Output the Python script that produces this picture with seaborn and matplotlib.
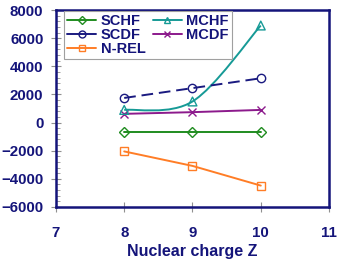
import numpy as np
import matplotlib
matplotlib.use("Agg")
import matplotlib.pyplot as plt
from matplotlib.path import Path
from matplotlib.patches import PathPatch
from matplotlib.lines import Line2D
import seaborn as sns

Z = [8, 9, 10]
schf = [-650, -650, -650]
scdf = [1750, 2450, 3150]
nrel = [-2050, -3080, -4480]
mchf = [900, 1500, 6900]
mcdf = [620, 740, 900]
labels = ['SCHF', 'SCDF', 'N-REL', 'MCHF', 'MCDF']
xticks = [7, 8, 9, 10, 11]
yticks = [-6000, -4000, -2000, 0, 2000, 4000, 6000, 8000]

sns.set_theme(style="white")
plt.rcParams['font.family'] = ['Liberation Sans', 'DejaVu Sans']
plt.rcParams['font.weight'] = 'bold'

navy = '#14147a'
c_schf = '#1f8c1f'
c_scdf = '#1a1a80'
c_nrel = '#ff7d26'
c_mchf = '#169a96'
c_mcdf = '#8c1a8c'

fig = plt.figure(figsize=(3.41, 2.64), dpi=100)
ax = fig.add_axes([0.164, 0.216, 0.801, 0.746])

ms = 6
sns.lineplot(x=Z, y=schf, color=c_schf, marker='D', markersize=5, markerfacecolor='none',
             markeredgecolor=c_schf, markeredgewidth=1.0, linewidth=1.4, ax=ax)
sns.lineplot(x=Z, y=nrel, color=c_nrel, marker='s', markersize=ms, markerfacecolor='none',
             markeredgecolor=c_nrel, markeredgewidth=1.0, linewidth=1.4, ax=ax)
sns.lineplot(x=Z, y=mcdf, color=c_mcdf, marker='x', markersize=ms,
             markeredgecolor=c_mcdf, markeredgewidth=1.0, linewidth=1.4, ax=ax)
sns.lineplot(x=Z, y=scdf, color=c_scdf, marker='o', markersize=ms, markerfacecolor='none',
             markeredgecolor=c_scdf, markeredgewidth=1.0, linewidth=1.4, ax=ax)
ax.lines[-1].set_dashes((6, 3))

# smooth (Catmull-Rom style) curve for MCHF
P = np.column_stack([Z, mchf]).astype(float)
Pext = np.vstack([P[0], P, P[-1]])
verts = [tuple(P[0])]
codes = [Path.MOVETO]
for i in range(len(P) - 1):
    p0, p1, p2, p3 = Pext[i], Pext[i + 1], Pext[i + 2], Pext[i + 3]
    c1 = p1 + (p2 - p0) / 6.0
    c2 = p2 - (p3 - p1) / 6.0
    verts += [tuple(c1), tuple(c2), tuple(p2)]
    codes += [Path.CURVE4] * 3
ax.add_patch(PathPatch(Path(verts, codes), facecolor='none', edgecolor=c_mchf, linewidth=1.4))
sns.scatterplot(x=Z, y=mchf, marker='^', s=40, facecolor='none', edgecolor=c_mchf,
                linewidth=1.0, ax=ax, zorder=3)

ax.set_xlim(7, 11)
ax.set_ylim(-6000, 8000)
ax.set_xticks(xticks)
ax.set_yticks(yticks)
ax.set_yticks(np.arange(-6000, 8001, 400), minor=True)
ax.tick_params(axis='both', which='major', direction='inout', length=7, width=0.8,
               color='#909090', labelcolor=navy, labelsize=10.8)
ax.tick_params(axis='x', which='major', bottom=True, pad=10)
ax.tick_params(axis='y', which='minor', direction='in', length=3, width=0.6, color='#909090', left=True)
ax.tick_params(axis='y', which='major', left=True, pad=5.5)
for lab in ax.get_xticklabels() + ax.get_yticklabels():
    lab.set_fontweight('bold')
for s in ax.spines.values():
    s.set_color(navy)
    s.set_linewidth(1.8)
ax.set_xlabel('Nuclear charge Z', color=navy, fontsize=11.5, fontweight='bold', labelpad=3)
ax.set_ylabel('')

handles = [
    Line2D([], [], color=c_schf, marker='D', markersize=4, markerfacecolor='none', linewidth=1.4),
    Line2D([], [], color=c_scdf, marker='o', markersize=5, markerfacecolor='none', linewidth=1.4),
    Line2D([], [], color=c_nrel, marker='s', markersize=5, markerfacecolor='none', linewidth=1.4),
    Line2D([], [], color=c_mchf, marker='^', markersize=5, markerfacecolor='none', linewidth=1.4),
    Line2D([], [], color=c_mcdf, marker='x', markersize=5, linewidth=1.4),
]
leg = ax.legend(handles, labels, ncol=2, loc='upper left', bbox_to_anchor=(0.025, 1.0),
                frameon=True, fancybox=False, edgecolor='#a0a0a0', framealpha=1,
                prop={'weight': 'bold', 'size': 10.5}, handlelength=2.0, handletextpad=0.3,
                columnspacing=0.5, labelspacing=0.0, borderpad=0.2, borderaxespad=0.1)
leg.get_frame().set_linewidth(0.8)
for t in leg.get_texts():
    t.set_color(navy)

fig.savefig('out.png', dpi=100)
